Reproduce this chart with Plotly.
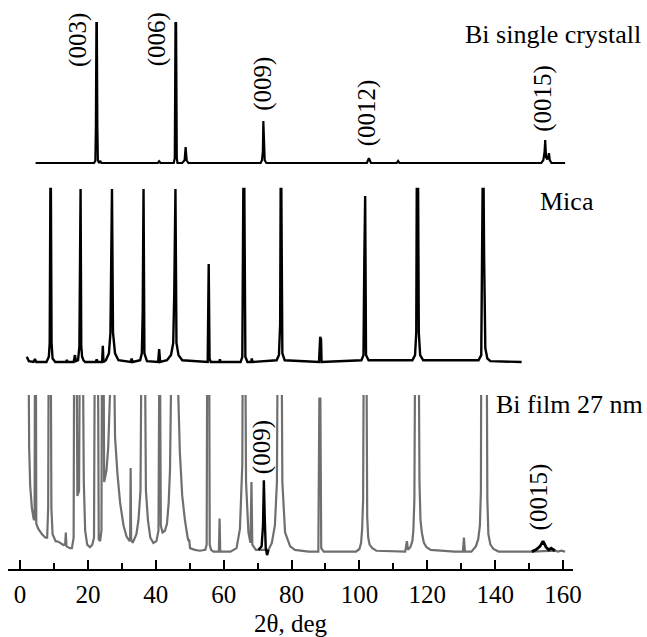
import plotly.graph_objects as go

# ---------------- data ----------------
# Bi single crystal (intensity, arb. units; (003) = 100)
single_2theta = [4.6, 21.8, 22.2, 22.35, 22.5, 22.65, 22.8, 22.95, 23.3, 23.6, 24.0, 40.6, 41.0, 41.4,
                 45.3, 45.6, 45.8, 46.0, 46.2, 46.4, 47.8, 48.5, 48.8, 49.1, 49.6,
                 70.9, 71.3, 71.55, 71.7, 71.85, 72.1, 72.6,
                 102.2, 102.8, 103.4, 111.0, 111.4, 111.8,
                 153.6, 154.2, 154.55, 154.75, 155.0, 155.4, 155.85, 156.1, 156.6, 160.6]
single_I = [0, 0, 1.5, 26, 100, 100, 26, 2, 0, 1.5, 0, 0, 1.2, 0,
            0, 3.5, 100, 100, 3.5, 0, 0, 2, 11.4, 2, 0,
            0, 2, 8, 30, 8, 2, 0,
            0, 3.5, 0, 0, 1.5, 0,
            0, 2, 8, 16.4, 4, 2.5, 7, 2, 0, 0]

# Mica (intensity, arb. units)
mica_2theta = [2.0, 2.6, 4.0, 4.4, 4.8,
               7.8, 8.5, 8.75, 8.95, 9.1, 9.3, 9.6, 10.4, 13.6, 13.8, 14.0,
               15.8, 16.2, 16.5, 17.1, 17.5, 17.75, 17.85, 18.05, 18.3, 18.7, 19.2,
               22.3, 22.6, 22.9, 24.2, 24.4, 24.6,
               25.3, 26.2, 26.65, 26.9, 27.1, 27.4, 28.0, 29.0,
               32.6, 32.9, 33.2, 35.4, 35.9, 36.15, 36.25, 36.4, 36.65, 37.4,
               40.7, 41.0, 41.3,
               43.3, 44.5, 45.15, 45.45, 45.6, 45.8, 46.1, 46.7, 47.8,
               55.3, 55.6, 55.75, 55.85, 56.2, 58.7, 58.9, 59.1,
               65.0, 65.5, 65.8, 66.1, 66.4, 67.0, 68.1, 68.3, 68.5,
               75.6, 76.3, 76.65, 76.8, 77.0, 77.3, 78.0,
               88.1, 88.45, 88.7, 88.85,
               100.6, 101.2, 101.45, 101.55, 101.7, 101.95, 102.7,
               115.6, 116.4, 116.75, 116.9, 117.3, 117.5, 117.9, 118.8,
               135.1, 135.9, 136.3, 136.6, 136.75, 136.9, 137.1, 137.7, 138.6, 147.8]
mica_I = [3, 0.5, 0, 1.7, 0,
          0, 3, 11, 100, 100, 11, 2, 0, 0, 1.2, 0,
          0, 4, 0.5, 1, 9, 100, 100, 9, 3, 1, 0,
          0, 1.5, 0, 0, 9.3, 0,
          1, 5, 17, 100, 100, 17, 5, 1,
          0, 2, 0, 1, 5, 28, 100, 100, 5, 0.5,
          0, 7.5, 0,
          1, 4, 11, 40, 100, 100, 11, 4, 1,
          0, 56.6, 33, 2, 0, 0, 1.5, 0,
          0, 3, 100, 100, 3, 0, 0, 2, 0,
          1, 4, 22, 100, 100, 5, 1,
          0, 14.5, 13, 0,
          1, 4, 59, 96, 96, 4, 1,
          1, 4, 17, 100, 100, 17, 4, 1,
          1, 4, 100, 100, 60, 45, 8, 2, 0.5, 0]

# Bi film 27 nm (intensity, arb. units; axis clipped at 100)
film_2theta = [
    2.4, 2.7, 3.0, 3.5, 4.0, 4.3, 4.45, 4.65, 4.8, 5.4, 6.5, 7.5,
    8.0, 8.3, 8.5, 9.0, 9.25, 9.6, 10.5, 11.3, 12.8, 13.3, 13.5, 13.7, 14.7,
    15.3, 15.8, 16.0, 16.6, 16.9, 17.4, 17.7, 18.4, 18.6, 18.8, 19.2, 19.8, 20.6,
    21.3, 21.8, 22.1, 22.9, 23.2, 23.6, 24.0, 24.2, 24.55, 24.8, 25.5, 26.0, 26.5,
    26.8, 27.5, 28.0, 28.7, 29.5, 30.5, 31.4, 32.3, 32.45, 32.6, 32.75, 33.2,
    34.3, 34.9, 35.5, 35.9, 36.7, 37.1, 37.7, 38.4, 39.3, 40.2, 40.8, 40.95, 41.15,
    41.5, 42.0, 42.7, 43.3, 43.8, 44.2, 44.6, 44.8, 46.1, 46.5, 47.1, 47.8, 48.6,
    49.4, 49.7, 49.85, 50.1, 51.5, 53.0, 54.6, 55.0, 55.2, 55.7, 55.9, 56.3, 57.0,
    58.6, 58.8, 59.0, 62.0, 63.8, 64.8, 65.5, 65.7, 66.3, 66.6, 67.3, 67.9, 68.2,
    68.45, 69.5, 70.3, 73.2, 74.2, 75.1, 75.7, 76.0, 77.0, 77.3, 78.1, 79.6, 81.0,
    85.0, 87.9, 88.2, 88.5, 88.75, 89.5,
    99.0, 100.0, 100.5, 100.8, 101.1, 101.35, 102.0, 102.3, 102.6, 103.0, 103.8, 105.0,
    113.5, 114.0, 114.3, 115.0, 115.6, 115.9, 116.2, 116.5, 117.4, 117.7, 118.0, 118.4,
    119.0, 119.8, 121.0, 128.0, 130.5, 130.8, 131.1,
    133.0, 134.3, 135.0, 135.5, 135.8, 135.95, 137.45, 137.7, 138.0, 138.6, 139.5, 141.0,
    150.8, 157.6, 158.5, 159.5, 160.6]
film_I = [
    160, 70, 48, 35, 29, 28, 160, 160, 26, 23, 20, 18,
    18, 35, 160, 160, 35, 20, 16, 15.7, 13.8, 14, 21, 13, 12,
    12, 18, 160, 160, 42, 45, 160, 160, 90, 50, 22, 14, 12.5,
    14, 18, 160, 160, 17, 16, 22, 160, 160, 50, 57, 70, 95,
    160, 160, 76, 55, 38, 25, 18.6, 16, 17, 58, 17, 15,
    20, 28, 45, 160, 160, 45, 28, 18, 15, 16, 22, 160, 160,
    25, 21, 22, 26, 38, 57, 120, 160, 160, 110, 67, 42, 28,
    18, 16, 17, 12, 11, 10.5, 11, 14, 160, 160, 14, 11, 10,
    10, 29, 10, 10, 12, 23, 60, 160, 160, 50, 21, 15, 50,
    14, 11, 11, 11, 15, 25, 50, 160, 160, 50, 21, 13, 11,
    10, 10, 98, 98, 12, 10,
    10, 11.5, 15, 23, 40, 160, 160, 30, 18, 14, 12, 10.5,
    10, 16, 11, 12.5, 16, 22, 40, 160, 160, 50, 28, 21,
    15, 12.5, 11, 10, 10, 18, 10,
    10, 13, 17, 25, 45, 160, 160, 40, 20, 14, 11.5, 10,
    10, 10.5, 10, 10.5, 10]
assert len(film_2theta) == len(film_I)

# Bi (009) and (0015) reflections of the film (black overlays)
film009_2theta = [70.3, 71.2, 71.6, 71.85, 72.1, 72.4, 72.8, 73.2]
film009_I = [11, 13, 25, 51, 30, 12, 8, 11]
film0015_2theta = [150.8, 152.0, 153.2, 154.1, 155.0, 155.8, 156.5, 157.6]
film0015_I = [10, 11, 13, 16, 12.5, 11, 12, 10.5]

# peak labels
single_labels = ["(003)", "(006)", "(009)", "(0012)", "(0015)"]
single_label_2theta = [16.9, 40.3, 71.7, 102.5, 154.0]
single_label_I = [88.2, 88.2, 56.8, 36.1, 46.4]
film_labels = ["(009)", "(0015)"]
film_label_2theta = [71.2, 152.9]
film_label_I = [69.8, 41.7]

sample_names = ["Bi single crystall", "Mica", "Bi film 27 nm"]

x_ticks = [0, 20, 40, 60, 80, 100, 120, 140, 160]

# ---------------- layout helpers ----------------
W, H = 647, 637
ML, MR, MT, MB = 8, 74, 0, 68
PH = H - MT - MB          # plot height in px
PW = W - ML - MR


def yrange(base_px, px_per_unit):
    """y-axis range spanning the whole plot height so that 0 sits at base_px."""
    r0 = -(PH - base_px) / px_per_unit
    return [r0, r0 + PH / px_per_unit]


def px_x(p):
    return (p - ML) / PW


def px_y(p):
    return (PH - p) / PH


FONT = "Liberation Serif"
GRAY = "#6f6f6f"

fig = go.Figure()
fig.add_trace(go.Scatter(x=single_2theta, y=single_I, mode="lines", yaxis="y",
                         line=dict(color="black", width=2.2), showlegend=False))
fig.add_trace(go.Scatter(x=mica_2theta, y=mica_I, mode="lines", yaxis="y2",
                         line=dict(color="black", width=2.4), showlegend=False))
fig.add_trace(go.Scatter(x=film_2theta, y=film_I, mode="lines", yaxis="y3",
                         line=dict(color=GRAY, width=2.2), showlegend=False))
fig.add_trace(go.Scatter(x=film009_2theta, y=film009_I, mode="lines", yaxis="y3",
                         line=dict(color="black", width=2.4), showlegend=False))
fig.add_trace(go.Scatter(x=film0015_2theta, y=film0015_I, mode="lines", yaxis="y3",
                         line=dict(color="black", width=2.8), showlegend=False))

ann = []
for t, xv, yv in zip(single_labels, single_label_2theta, single_label_I):
    ann.append(dict(text=t, x=xv, y=yv, xref="x", yref="y", textangle=-90,
                    showarrow=False, xanchor="center", yanchor="middle",
                    font=dict(family=FONT, size=25, color="black")))
for t, xv, yv in zip(film_labels, film_label_2theta, film_label_I):
    ann.append(dict(text=t, x=xv, y=yv, xref="x", yref="y3", textangle=-90,
                    showarrow=False, xanchor="center", yanchor="middle",
                    font=dict(family=FONT, size=25, color="black")))

name_pos = [(643, 34, "right"), (538, 201, "left"), (645, 404, "right")]
for name, (px, py, anc) in zip(sample_names, name_pos):
    ann.append(dict(text=name, x=px_x(px), y=px_y(py), xref="paper", yref="paper",
                    showarrow=False, xanchor=anc, yanchor="middle",
                    font=dict(family=FONT, size=26, color="black")))

x0 = (ML - 20) / 3.394
fig.update_layout(
    width=W, height=H,
    margin=dict(l=ML, r=MR, t=MT, b=MB, pad=0),
    paper_bgcolor="white", plot_bgcolor="rgba(0,0,0,0)",
    showlegend=False,
    font=dict(family=FONT, color="black"),
    xaxis=dict(range=[x0, x0 + PW / 3.394], anchor="y3",
               tickvals=x_ticks, ticks="inside", ticklen=9, tickwidth=2,
               tickcolor="black", showline=True, linecolor="black", linewidth=2,
               showgrid=False, zeroline=False,
               minor=dict(dtick=10, tick0=0, ticks="inside", ticklen=6,
                          tickwidth=2, tickcolor="black", showgrid=False),
               tickfont=dict(family=FONT, size=25, color="black"),
               ticklabelstandoff=2,
               title=dict(text="2θ, deg", standoff=9,
                          font=dict(family=FONT, size=25, color="black"))),
    yaxis=dict(domain=[0, 1], range=yrange(163, 1.4), visible=False),
    yaxis2=dict(domain=[0, 1], range=yrange(362, 1.73), visible=False,
                overlaying="y"),
    yaxis3=dict(domain=[0, 174 / PH], range=[0, 100], visible=False),
    annotations=ann,
)

fig.write_html("out.html")
